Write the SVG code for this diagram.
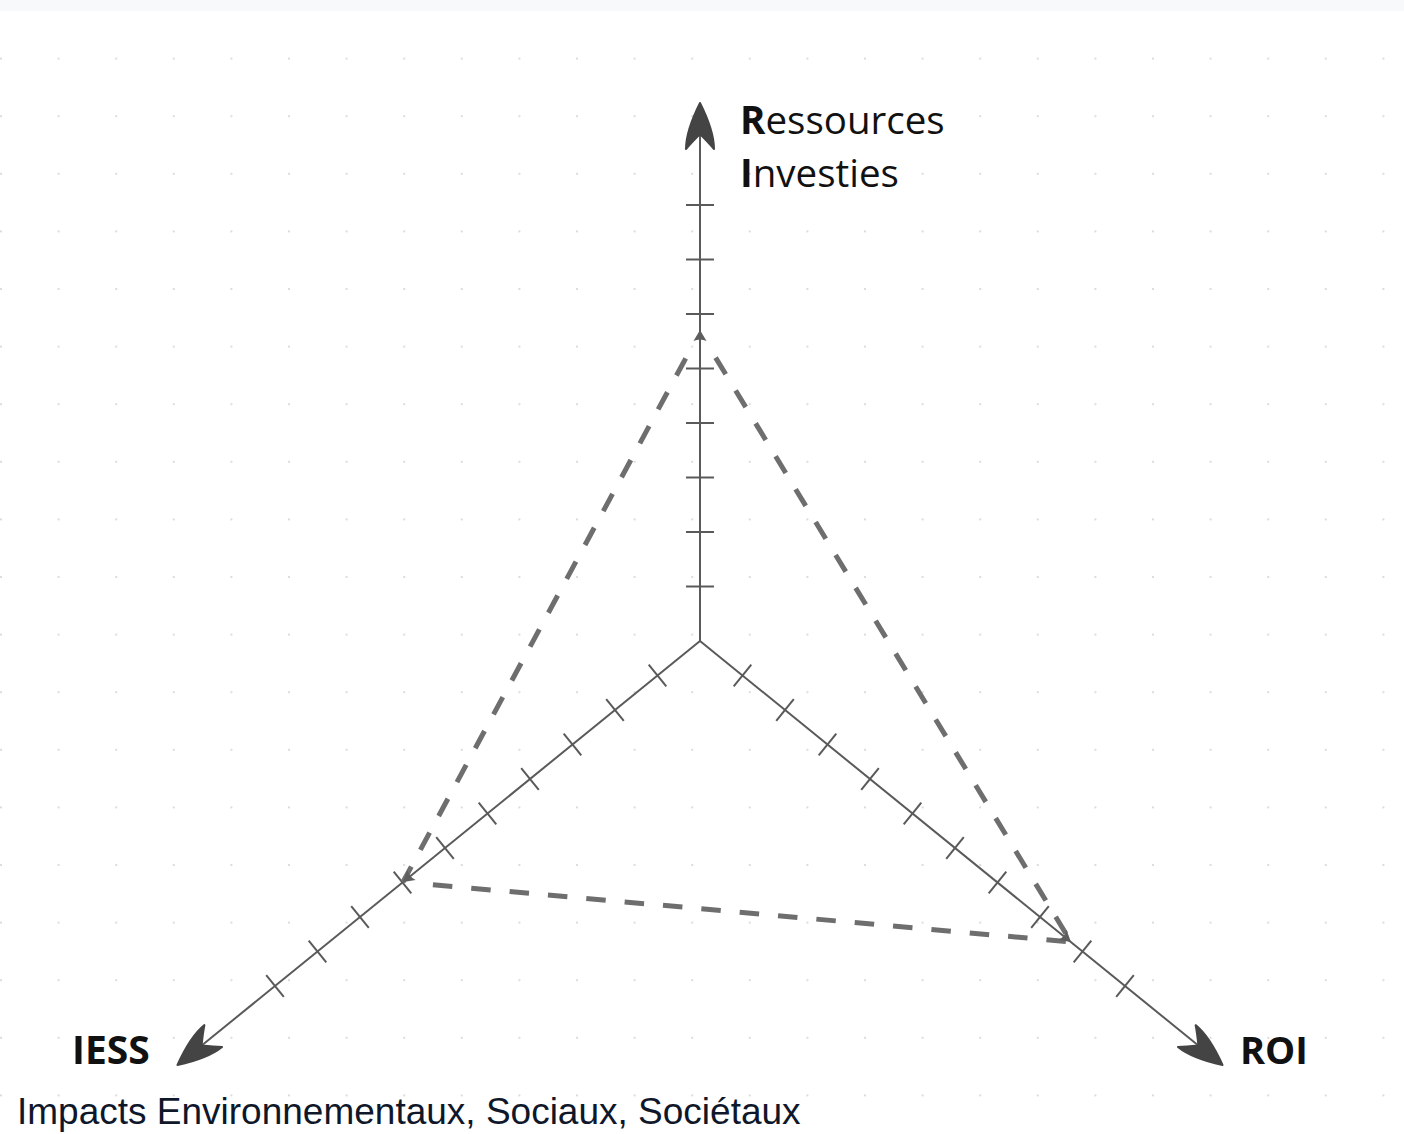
<svg xmlns="http://www.w3.org/2000/svg" width="1404" height="1134" viewBox="0 0 1404 1134">
<style>
.axis{stroke:#5a5a5a;stroke-width:2;fill:none}
.tick{stroke:#5a5a5a;stroke-width:2}
.dash{stroke:#6e6e6e;stroke-width:5;fill:none;stroke-dasharray:19.5 19}
.head{fill:#444;stroke:#444;stroke-width:2;stroke-linejoin:round}
.mini{fill:#5e5e5e}
.lbl{font-family:"Open Sans","DejaVu Sans",sans-serif;fill:#111}
.sub{font-family:"Liberation Sans",Arial,sans-serif;fill:#0f172a;font-size:37px}
</style>
<defs>
<pattern id="grid" patternUnits="userSpaceOnUse" x="0" y="0" width="57.6" height="57.6">
<rect x="0" y="0" width="2" height="2" fill="#dcdcdc"/>
</pattern>
<path id="bighead" d="M0,0 C4,8 14,30 14,46 C9,40 4,35 0,31 C-4,35 -9,40 -14,46 C-14,30 -4,8 0,0 Z"/>
<path id="minihead" d="M0,0 L6.5,11 Q0,8 -6.5,11 Z"/>
</defs>
<rect width="1404" height="1134" fill="#ffffff"/>
<rect width="1404" height="1134" fill="url(#grid)"/>
<rect width="1404" height="11" fill="#f8f9fb"/>

<g id="axes">
<g id="axis-ressources">
<line class="axis" x1="700" y1="641" x2="700" y2="133"/>
<g class="tick">
<line x1="686" y1="586.5" x2="714" y2="586.5"/>
<line x1="686" y1="532" x2="714" y2="532"/>
<line x1="686" y1="477.5" x2="714" y2="477.5"/>
<line x1="686" y1="423" x2="714" y2="423"/>
<line x1="686" y1="368.5" x2="714" y2="368.5"/>
<line x1="686" y1="314" x2="714" y2="314"/>
<line x1="686" y1="259.5" x2="714" y2="259.5"/>
<line x1="686" y1="205" x2="714" y2="205"/>
</g>
<use href="#bighead" class="head" transform="translate(700,103)"/>
</g>
<g id="axis-roi">
<line class="axis" x1="700" y1="641" x2="1200.8" y2="1047.5"/>
<g class="tick">
<line x1="733.7" y1="686.4" x2="751.3" y2="664.6"/>
<line x1="776.2" y1="720.9" x2="793.8" y2="699.1"/>
<line x1="818.7" y1="755.4" x2="836.3" y2="733.6"/>
<line x1="861.2" y1="789.9" x2="878.8" y2="768.1"/>
<line x1="903.7" y1="824.4" x2="921.3" y2="802.6"/>
<line x1="946.2" y1="858.9" x2="963.8" y2="837.1"/>
<line x1="988.7" y1="893.4" x2="1006.3" y2="871.6"/>
<line x1="1031.2" y1="927.9" x2="1048.8" y2="906.1"/>
<line x1="1073.7" y1="962.4" x2="1091.3" y2="940.6"/>
<line x1="1116.2" y1="996.9" x2="1133.8" y2="975.1"/>
</g>
<use href="#bighead" class="head" transform="translate(1222.5,1065) rotate(129.07)"/>
</g>
<g id="axis-iess">
<line class="axis" x1="700" y1="641" x2="199.2" y2="1047.5"/>
<g class="tick">
<line x1="648.7" y1="664.6" x2="666.3" y2="686.4"/>
<line x1="606.2" y1="699.1" x2="623.8" y2="720.9"/>
<line x1="563.7" y1="733.6" x2="581.3" y2="755.4"/>
<line x1="521.2" y1="768.1" x2="538.8" y2="789.9"/>
<line x1="478.7" y1="802.6" x2="496.3" y2="824.4"/>
<line x1="436.2" y1="837.1" x2="453.8" y2="858.9"/>
<line x1="393.7" y1="871.6" x2="411.3" y2="893.4"/>
<line x1="351.2" y1="906.1" x2="368.8" y2="927.9"/>
<line x1="308.7" y1="940.6" x2="326.3" y2="962.4"/>
<line x1="266.2" y1="975.1" x2="283.8" y2="996.9"/>
</g>
<use href="#bighead" class="head" transform="translate(177.5,1065) rotate(-129.07)"/>
</g>
</g>

<g id="connectors">
<line class="dash" x1="685.7" y1="358.4" x2="403" y2="882"/>
<line class="dash" x1="715.6" y1="357.6" x2="1071" y2="942"/>
<line class="dash" x1="432.9" y1="884.7" x2="1071" y2="942"/>
</g>

<g id="markers">
<use href="#minihead" class="mini" transform="translate(700,330)"/>
<use href="#minihead" class="mini" transform="translate(403,882) rotate(-129.07)"/>
<use href="#minihead" class="mini" transform="translate(1071,942) rotate(129.07)"/>
</g>

<g id="label-ressources">
<text class="lbl" x="740" y="134" font-size="38.5"><tspan font-weight="bold">R</tspan>essources</text>
<text class="lbl" x="740" y="187" font-size="38.5"><tspan font-weight="bold">I</tspan>nvesties</text>
</g>
<g id="label-iess">
<text class="lbl" x="72" y="1064" font-size="39" font-weight="bold">IESS</text>
<text class="sub" x="17" y="1124">Impacts Environnementaux, Sociaux, Sociétaux</text>
</g>
<g id="label-roi">
<text class="lbl" x="1240" y="1064" font-size="38" font-weight="bold">ROI</text>
</g>
</svg>
